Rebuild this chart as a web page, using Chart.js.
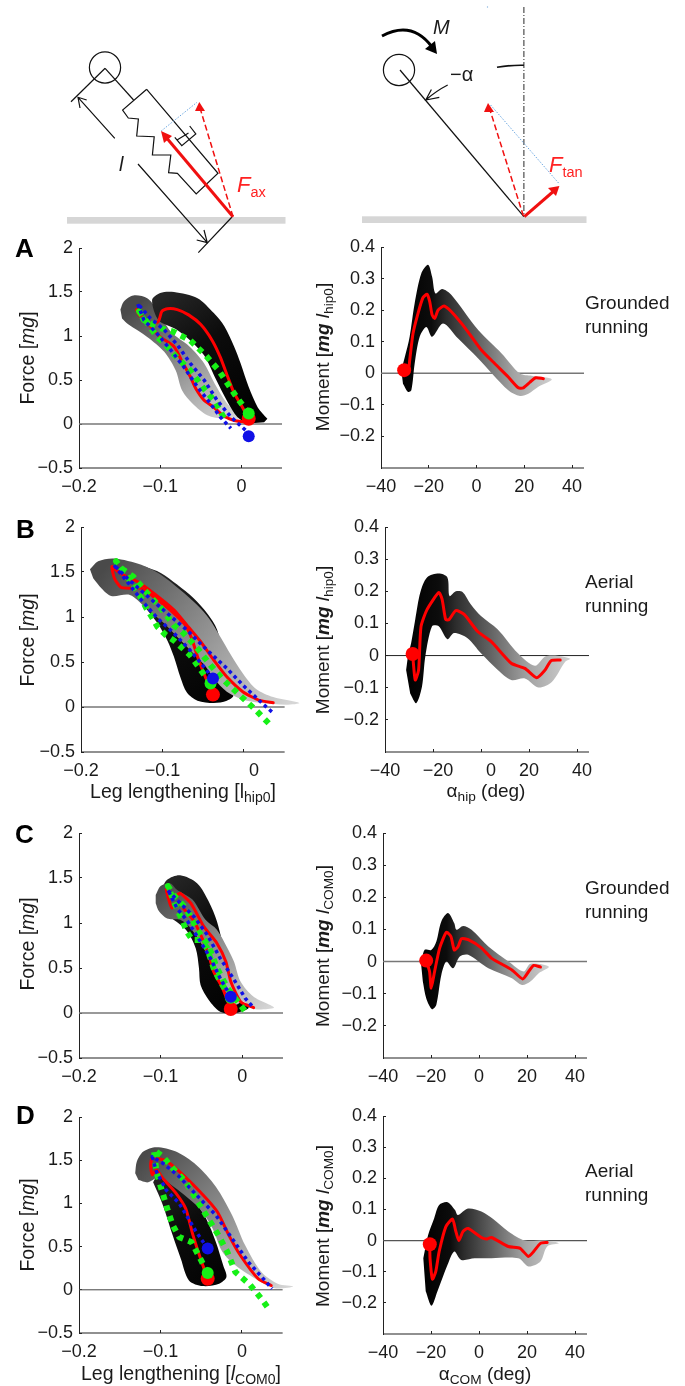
<!DOCTYPE html>
<html><head><meta charset="utf-8">
<script src="https://cdn.jsdelivr.net/npm/chart.js@4"></script>
<style>
html,body{margin:0;padding:0;background:#fff;overflow:hidden}
#page{position:relative;width:685px;height:1386px;overflow:hidden;font-family:"Liberation Sans",Arial,sans-serif;color:#1a1a1a;filter:blur(.35px)}
canvas{position:absolute}
svg{position:absolute;left:0;top:0}
.t{position:absolute;white-space:nowrap;font-size:19px;line-height:24px}
.w{font-size:19.5px}
.t sub{font-size:.72em;line-height:0;vertical-align:-.3em}
.r{transform:translate(-50%,-50%) rotate(-90deg)}
.c{transform:translateX(-50%)}
.L{position:absolute;font-weight:bold;font-size:26px;line-height:26px;color:#000}
.f{position:absolute;white-space:nowrap;font-size:22px;line-height:24px;color:#f22}
.f sub{font-size:.66em;line-height:0;vertical-align:-.32em}
</style></head><body><div id="page">
<svg width="685" height="262" viewBox="0 0 685 262">
 <rect x="67" y="217" width="218.5" height="6.7" fill="#d6d6d6"/>
 <rect x="362" y="216.3" width="224.5" height="6.7" fill="#d6d6d6"/>
 <g fill="none" stroke="#111" stroke-width="1.2">
  <circle cx="105" cy="67.5" r="15.6"/>
  <path d="M105.1 68.3 L133.6 100"/>
  <path d="M146.7 89.3 L122.6 110 L128.3 118 L138.4 119 L136.7 136 L154.2 136.7 L152.4 155 L170.8 155 L168.6 172.7 L177.4 173.3 L196.2 194 L218 173.3 L146.7 89.3"/>
  <path d="M174.8 137.3 L181.8 145.7 L195.8 134 L189.7 126 M177 140 L188.5 133"/>
  <path d="M105.1 68.3 L71 101.7"/>
  <path d="M114.8 138.3 L78 97.3 M86.7 100 L78 97.3 L80 108"/>
  <path d="M138 164 L207.3 242.7 M196.7 240 L207.3 242.7 L204 230"/>
  <path d="M198.3 252.7 L232 217"/>
  <circle cx="399" cy="70" r="15.6"/>
  <path d="M400 70 L523.9 216.7"/>
  <path d="M497 67.3 Q510 65 523.9 65.3" stroke-width="1.6"/>
  <path d="M447.7 85 Q436 91 425.8 100 M431.4 89.5 L425.8 100 L439.3 97.3"/>
 </g>
 <path d="M523.9 7 V216" fill="none" stroke="#111" stroke-width=".9" stroke-dasharray="6 2 1 2"/>
 <path d="M382 36 Q412 20 432 47" fill="none" stroke="#000" stroke-width="3"/>
 <polygon points="437,54 425,49 435,41" fill="#000"/>
 <circle cx="487.5" cy="7" r=".7" fill="#8ab4e0"/>
 <g fill="none" stroke="#6aa6e0" stroke-width="1" stroke-dasharray="1.5 1.5">
  <path d="M161.2 131 L197 102.3"/><path d="M490.6 105 L559.4 184"/>
 </g>
 <g fill="none" stroke="#f01010">
  <path d="M233 216.7 L165 136" stroke-width="3"/>
  <path d="M233 216.7 L200 108" stroke-width="1.5" stroke-dasharray="6 3"/>
  <path d="M523.4 216 L490 110" stroke-width="1.5" stroke-dasharray="6 3"/>
  <path d="M524.3 216.7 L555 190" stroke-width="3"/>
 </g>
 <g fill="#f01010">
  <polygon points="161,131 172,136 164,143"/>
  <polygon points="199.3,102 205,111 195,111"/>
  <polygon points="488,103 494,112 484,112"/>
  <polygon points="559.4,186 556,196 548,188"/>
 </g>
</svg>
<div class="t" style="left:119px;top:152px;font-style:italic;font-size:20px">l</div>
<div class="f" style="left:237px;top:173px"><i>F</i><sub>ax</sub></div>
<div class="f" style="left:549px;top:153px"><i>F</i><sub>tan</sub></div>
<div class="t" style="left:433px;top:15px;font-style:italic;font-size:20px">M</div>
<div class="t" style="left:450px;top:62px;font-size:20px">−α</div>

<div class="L" style="left:15px;top:235px">A</div>
<div class="L" style="left:16px;top:516px">B</div>
<div class="L" style="left:15px;top:821px">C</div>
<div class="L" style="left:16px;top:1102px">D</div>

<div class="t r w" style="left:27px;top:358px">Force [<i>mg</i>]</div>
<div class="t r w" style="left:27px;top:640px">Force [<i>mg</i>]</div>
<div class="t r w" style="left:27px;top:944px">Force [<i>mg</i>]</div>
<div class="t r w" style="left:27px;top:1225px">Force [<i>mg</i>]</div>
<div class="t r" style="left:323px;top:357px">Moment [<b><i>mg</i></b> <i>l</i><sub>hip0</sub>]</div>
<div class="t r" style="left:323px;top:640px">Moment [<b><i>mg</i></b> <i>l</i><sub>hip0</sub>]</div>
<div class="t r" style="left:323px;top:946px">Moment [<b><i>mg</i></b> <i>l</i><sub>COM0</sub>]</div>
<div class="t r" style="left:323px;top:1226px">Moment [<b><i>mg</i></b> <i>l</i><sub>COM0</sub>]</div>
<div class="t c w" style="left:183px;top:779px">Leg lengthening [l<sub>hip0</sub>]</div>
<div class="t c w" style="left:181px;top:1361px">Leg lengthening [<i>l</i><sub>COM0</sub>]</div>
<div class="t c" style="left:486px;top:779px">α<sub>hip</sub> (deg)</div>
<div class="t c" style="left:485px;top:1362px">α<sub>COM</sub> (deg)</div>
<div class="t" style="left:585px;top:291px">Grounded<br>running</div>
<div class="t" style="left:585px;top:570px">Aerial<br>running</div>
<div class="t" style="left:585px;top:876px">Grounded<br>running</div>
<div class="t" style="left:585px;top:1159px">Aerial<br>running</div>
</div>
<script>
// ---------- tick values and labels
const forceXTicks=[-0.2,-0.1,0];
const forceXLabels=['−0.2','−0.1','0'];
const forceXLabelsB=['−0.2','−0.1','    0'];
const forceYTicks=[-0.5,0,0.5,1,1.5,2];
const forceYLabels=['−0.5','0','0.5','1','1.5','2'];
const momentXTicks=[-40,-20,0,20,40];
const momentXLabels=['−40','−20','0','20','40'];
const momentXLabelsB=['−40','  −20','    0','20','  40'];
const momentYTicks=[-0.2,-0.1,0,0.1,0.2,0.3,0.4];
const momentYLabels=['−0.2','−0.1','0','0.1','0.2','0.3','0.4'];

// ---------- panel A, force
const aForceRedX=[.009,0,-.009,-.017,-.026,-.036,-.05,-.065,-.079,-.091,-.098,-.102,-.11,-.122,-.129,-.126,-.114,-.1,-.083,-.073,-.063,-.056,-.046,-.034,-.023,-.009,.009];
const aForceRedY=[.06,.21,.35,.54,.76,.95,1.13,1.24,1.30,1.31,1.28,1.17,1.13,1.21,1.30,1.24,1.13,.99,.88,.71,.54,.40,.27,.19,.10,.04,.02];
const aForceBlueX=[.009,.005,-.013,-.03,-.046,-.063,-.079,-.095,-.112,-.128,-.12,-.104,-.087,-.071,-.054,-.038,-.026,-.013];
const aForceBlueY=[-.14,-.07,.08,.27,.50,.69,.90,1.07,1.20,1.37,1.18,1.03,.84,.65,.42,.23,.08,-.05];
const aForceGreenX=[.009,-.007,-.028,-.044,-.063,-.084,-.1,-.12,-.126,-.118,-.104,-.095,-.079,-.063,-.048,-.032,-.021];
const aForceGreenY=[.12,.32,.61,.78,.95,1.05,1.09,1.18,1.28,1.18,.99,.92,.75,.61,.42,.25,.06];
const aDarkX=[.032,.026,.02,.009,-.001,-.009,-.021,-.034,-.054,-.083,-.1,-.11,-.102,-.081,-.063,-.046,-.032,-.017,-.005,.007,.028];
const aDarkY=[.06,.12,.19,.42,.69,.88,1.11,1.26,1.43,1.50,1.49,1.41,1.18,1.08,.95,.78,.52,.25,.08,.015,.02];
const aGreyX=[-.149,-.145,-.133,-.116,-.104,-.087,-.064,-.046,-.033,-.019,-.003,-.021,-.042,-.06,-.073,-.081,-.095,-.116,-.139,-.147];
const aGreyY=[1.30,1.39,1.46,1.43,1.30,1.05,.88,.69,.46,.25,.07,.06,.10,.23,.38,.61,.82,.99,1.13,1.20];

// ---------- panel A, moment
const aMomentRedX=[-30.3,-28.7,-28,-26.6,-24.5,-22.4,-20.7,-19.6,-18.6,-17.5,-16.1,-13.6,-10.5,-6.3,-2.1,2.1,7.7,13.3,17.5,19.6,22.4,24.8,28];
const aMomentRedY=[.01,0,.04,.126,.19,.24,.25,.227,.185,.174,.2,.213,.195,.158,.116,.073,.03,-.012,-.046,-.046,-.028,-.014,-.017];
const aBandX=[-31.5,-30,-28,-25.9,-23.1,-20.3,-18.6,-17.2,-14.4,-10.5,.7,10.5,18.2,23.1,31.5,25.9,21.7,18.2,13.3,.7,-7.7,-14,-18.6,-21,-23.8,-25.9,-27.3,-28.7,-30.8];
const aBandY=[.01,.052,.116,.222,.317,.344,.306,.253,.267,.248,.137,.063,-.001,-.008,-.019,-.043,-.065,-.072,-.054,.047,.11,.158,.116,.147,.116,.031,-.054,-.059,-.033];

// ---------- panel B, force
const bForceRedX=[-.038,-.049,-.057,-.064,-.072,-.086,-.106,-.126,-.14,-.151,-.159,-.162,-.155,-.14,-.13,-.11,-.086,-.07,-.053,-.037,-.021,-.001,.019,.036];
const bForceRedY=[.138,.37,.56,.76,.91,1.04,1.19,1.32,1.32,1.33,1.43,1.56,1.505,1.43,1.39,1.26,1.08,.91,.725,.52,.335,.167,.074,.048];
const bForceBlueX=[-.038,-.049,-.066,-.086,-.106,-.126,-.143,-.16,-.143,-.122,-.094,-.07,-.045,-.021,-.001,.023,.035];
const bForceBlueY=[.316,.446,.63,.82,.985,1.19,1.39,1.58,1.43,1.26,1.04,.855,.63,.43,.24,.037,-.06];
const bForceGreenX=[-.041,-.066,-.086,-.096,-.106,-.112,-.12,-.126,-.136,-.157,-.149,-.136,-.12,-.102,-.086,-.076,-.057,-.041,-.025,-.005,.013,.031];
const bForceGreenY=[.26,.576,.74,.80,.89,.985,1.1,1.21,1.36,1.62,1.53,1.45,1.28,1.10,.91,.84,.65,.465,.30,.13,-.02,-.186];
const bDarkX=[-.122,-.102,-.082,-.062,-.045,-.033,-.013,-.021,-.037,-.057,-.07,-.078,-.086,-.094,-.106,-.122,-.134];
const bDarkY=[1.56,1.49,1.36,1.21,1.04,.86,.13,.07,.045,.07,.16,.33,.56,.74,.93,1.12,1.30];
const bGreyX=[-.189,-.179,-.159,-.126,-.102,-.078,-.057,-.043,-.029,-.017,-.001,.015,.036,.068,.052,.019,-.001,-.021,-.037,-.047,-.062,-.082,-.098,-.122,-.14,-.163,-.175,-.185];
const bGreyY=[1.53,1.62,1.65,1.58,1.47,1.30,1.13,.985,.78,.595,.37,.20,.11,.045,.026,.048,.08,.17,.32,.45,.595,.78,.93,1.115,1.245,1.234,1.32,1.43];

// ---------- panel B, moment
const bMomentRedX=[-28.5,-27.4,-26,-25,-22.5,-17.6,-16.2,-14.7,-13.3,-10.5,-7,-1.4,4.2,12.6,18.3,23.2,26.7,29.2,33];
const bMomentRedY=[.005,-.076,-.045,.09,.143,.196,.175,.112,.112,.14,.128,.075,.044,-.024,-.04,-.069,-.045,-.016,-.014];
const bBandX=[-31.2,-30.2,-29.1,-27.4,-25.3,-22.5,-17.6,-14,-13.1,-10.5,-7.7,-4.2,0,7,15.4,22.5,26.7,30.9,37.2,35.1,29.5,23.9,18.3,12.6,7,0,-5.6,-11.2,-14,-17.6,-20.4,-23.2,-24.6,-27,-29.5];
const bBandY=[-.045,.007,.039,.112,.196,.243,.255,.243,.185,.2,.198,.159,.123,.081,.007,-.032,-.003,0,-.01,-.019,-.082,-.099,-.071,-.076,-.045,.007,.054,.07,.051,.091,.091,-.003,-.097,-.148,-.118];

// ---------- panel C, force
const cForceRedX=[-.014,-.024,-.035,-.041,-.049,-.059,-.069,-.078,-.086,-.09,-.093,-.088,-.08,-.076,-.063,-.047,-.031,-.02,-.014,-.002,.014];
const cForceRedY=[.045,.275,.46,.645,.83,1.02,1.13,1.22,1.165,1.26,1.37,1.295,1.31,1.33,1.22,.96,.775,.57,.35,.126,.06];
const cForceBlueX=[-.014,-.027,-.039,-.051,-.067,-.08,-.09,-.092,-.076,-.059,-.043,-.027,-.01,.004,.014];
const cForceBlueY=[.18,.386,.61,.79,1.02,1.165,1.35,1.37,1.22,1.07,.87,.61,.37,.16,.06];
const cForceGreenX=[-.014,-.027,-.035,-.043,-.051,-.061,-.068,-.073,-.082,-.091,-.084,-.069,-.055,-.041,-.031,-.018,.007];
const cForceGreenY=[.17,.35,.5,.72,.81,.81,.905,1.02,1.2,1.41,1.31,1.165,.925,.74,.5,.275,-.02];
const cDarkX=[-.1,-.092,-.076,-.055,-.041,-.031,-.018,-.01,.008,-.01,-.027,-.041,-.051,-.053,-.057,-.069,-.092];
const cDarkY=[1.35,1.48,1.53,1.44,1.24,1.02,.534,.2,.06,-.004,.015,.145,.31,.5,.72,.925,1.09];
const cGreyX=[-.106,-.1,-.088,-.08,-.061,-.045,-.031,-.018,-.01,-.002,.014,.039,.014,.002,-.01,-.024,-.035,-.047,-.063,-.076,-.092,-.102,-.106];
const cGreyY=[1.31,1.41,1.44,1.37,1.26,1.035,.925,.72,.57,.35,.18,.06,.045,.126,.09,.275,.46,.72,.94,1.035,1.05,1.13,1.22];

// ---------- panel C, moment
const cMomentRedX=[-22,-20.6,-19.9,-18.5,-16.4,-13.6,-11.7,-10.3,-8.7,-7.3,-4.5,1.1,5.3,13.7,18.2,20.7,22.8,25.6];
const cMomentRedY=[.003,-.031,-.083,-.031,.042,.091,.078,.036,.047,.071,.068,.042,.01,-.026,-.054,-.031,-.012,-.017];
const cBandX=[-24.1,-22.7,-19.9,-17.8,-15.7,-12.9,-10.3,-9.4,-6.6,-3.1,3.9,12.3,18.6,21.4,29.1,24.9,21.4,17.9,13.7,3.9,-4.5,-8,-10.8,-13.6,-15.7,-17.8,-19.6,-22,-23.4];
const cBandY=[-.01,.036,.036,.062,.125,.151,.119,.099,.111,.099,.047,0,-.031,-.007,-.016,-.036,-.062,-.073,-.052,-.021,.021,.016,-.021,0,-.042,-.135,-.148,-.114,-.062];

// ---------- panel D, force
const dForceRedX=[-.042,-.05,-.06,-.069,-.081,-.097,-.105,-.11,-.112,-.11,-.095,-.077,-.048,-.03,-.016,-.002,.02,.036];
const dForceRedY=[.128,.34,.63,.94,1.12,1.29,1.39,1.33,1.43,1.52,1.50,1.37,1.10,.90,.63,.40,.128,.05];
const dForceBlueX=[-.042,-.056,-.077,-.093,-.105,-.11,-.097,-.077,-.052,-.032,-.012,.008,.028,.037];
const dForceBlueY=[.477,.67,1.0,1.155,1.37,1.54,1.465,1.31,1.06,.864,.593,.32,.11,.012];
const dForceGreenX=[-.042,-.05,-.062,-.077,-.085,-.091,-.099,-.105,-.108,-.097,-.087,-.069,-.044,-.03,-.018,-.008,.01,.024,.032];
const dForceGreenY=[.194,.34,.554,.61,.75,.92,1.17,1.37,1.62,1.54,1.43,1.25,.864,.65,.44,.205,.058,-.105,-.21];
const dDarkX=[-.101,-.081,-.06,-.044,-.032,-.023,-.019,-.028,-.048,-.065,-.075,-.085,-.097,-.109];
const dDarkY=[1.39,1.29,1.06,.826,.554,.283,.147,.07,.043,.109,.36,.63,.98,1.244];
const dGreyX=[-.131,-.129,-.121,-.105,-.081,-.056,-.032,-.012,.004,.024,.044,.063,.04,.02,-.008,-.024,-.036,-.052,-.071,-.089,-.101,-.115,-.127];
const dGreyY=[1.35,1.485,1.6,1.65,1.6,1.445,1.194,.864,.515,.205,.07,.039,.019,.109,.283,.44,.71,.94,1.1,1.23,1.31,1.244,1.27];

// ---------- panel D, moment
const dMomentRedX=[-20.5,-20.4,-19.4,-18,-16.6,-13.8,-11,-9.8,-8.4,-6.7,-4.6,1,3.1,5.2,12.2,17.1,20.6,22.8,25.6,28.4];
const dMomentRedY=[-.012,-.057,-.124,-.099,-.035,.045,.069,.034,0,.029,.039,.01,.005,.01,-.019,-.025,-.051,-.035,-.009,-.006];
const dBandX=[-23.2,-21.2,-18.7,-16.6,-13.1,-10,-8.8,-4.6,1,5.9,12.2,19.2,27.7,33.3,28.4,25.6,20.6,16.4,5.2,-1.8,-7.4,-10.3,-13.1,-17.3,-19.8,-22.2];
const dBandY=[-.057,.018,.071,.114,.123,.098,.082,.103,.093,.069,.029,0,0,-.009,-.019,-.067,-.083,-.057,-.057,-.057,-.062,-.035,-.078,-.163,-.209,-.163];

// ---------- drawing helpers
const FONT={family:'"Liberation Sans",Arial,sans-serif',size:18};
const RED='#ff0000',GREEN='#16f016',BLUE='#1010e6';
const zip=(xs,ys)=>xs.map((x,i)=>({x,y:ys[i]}));
const YW=70,XH=32,PT=12,PR=6;
function gradient(from,to,stops){
  return c=>{
    const ch=c.chart,sx=ch.scales.x,sy=ch.scales.y;
    if(!sx||!sy||!ch.chartArea)return '#000';
    const v=[sx.getPixelForValue(from[0]),sy.getPixelForValue(from[1]),sx.getPixelForValue(to[0]),sy.getPixelForValue(to[1])];
    if(!v.every(Number.isFinite))return '#000';
    const g=ch.ctx.createLinearGradient(v[0],v[1],v[2],v[3]);
    stops.forEach(s=>g.addColorStop(s[0],s[1]));
    return g;
  };
}
const band=(xs,ys,bg)=>({data:zip(xs,ys),fill:'shape',backgroundColor:bg,borderColor:'rgba(0,0,0,0)',borderWidth:0,tension:.3,pointRadius:0,clip:false});
const rule=(x0,x1,y,color,w)=>({data:[{x:x0,y},{x:x1,y}],borderColor:color,borderWidth:w,pointRadius:0,fill:false,clip:false});
const curve=(xs,ys,color,w,dash,cap,tension)=>({data:zip(xs,ys),borderColor:color,borderWidth:w,borderDash:dash||[],borderCapStyle:cap||'butt',borderJoinStyle:'round',tension:tension||0,pointRadius:0,fill:false,clip:false});
const dot=(xs,ys,color,r)=>({data:[{x:xs[0],y:ys[0]}],showLine:false,pointRadius:r,pointBackgroundColor:color,pointBorderWidth:0,fill:false,clip:false});
const noPad=s=>{s.paddingLeft=0;s.paddingRight=0;s.paddingTop=0;s.paddingBottom=0;};

function makeChart(p){
  const plotW=Math.round((p.end-p.left)*(p.xDraw-p.xMin)/(p.xEnd-p.xMin));
  const cv=document.createElement('canvas');
  const W=YW+plotW+PR,H=PT+(p.bottom-p.top)+XH;
  cv.width=W;cv.height=H;
  cv.style.cssText=`left:${p.left-YW}px;top:${p.top-PT}px;width:${W}px;height:${H}px`;
  document.getElementById('page').appendChild(cv);
  const layers=p.datasets.map((d,i)=>Object.assign({order:p.datasets.length-i},d));
  const chart=new Chart(cv.getContext('2d'),{
    type:'line',
    data:{datasets:layers},
    options:{
      responsive:false,animation:false,events:[],devicePixelRatio:1,
      layout:{autoPadding:false,padding:{left:0,top:PT,right:PR,bottom:0}},
      plugins:{legend:{display:false},tooltip:{enabled:false},title:{display:false}},
      scales:{
        x:{type:'linear',min:p.xMin,max:p.xDraw,
          afterBuildTicks:s=>{s.ticks=p.xTicks.map(value=>({value}));},
          afterFit:s=>{s.height=XH;noPad(s);},
          border:{display:false},
          grid:{drawOnChartArea:false,tickLength:-3,color:'#222',lineWidth:1},
          ticks:{autoSkip:false,maxRotation:0,minRotation:0,padding:11,color:'#1a1a1a',font:FONT,callback:(v,i)=>p.xLabels[i]}},
        y:{type:'linear',min:p.yMin,max:p.yMax,
          afterBuildTicks:s=>{s.ticks=p.yTicks.map(value=>({value}));},
          afterFit:s=>{s.width=YW;noPad(s);},
          border:{display:true,color:'#222',width:1},
          grid:{drawOnChartArea:false,tickLength:-3,color:'#222',lineWidth:1},
          ticks:{autoSkip:false,padding:9,color:'#1a1a1a',font:FONT,callback:(v,i)=>p.yLabels[i]}}
      }
    }
  });
  chart.update();
  return chart;
}
const darkStops=[[0,'#000'],[.6,'#0c0c0c'],[1,'#262626']];
const greyStops=[[0,'#4a4a4a'],[.5,'#8f8f8f'],[1,'#d6d6d6']];
const momentStops=[[0,'#000'],[.2,'#0c0c0c'],[.3,'#2c2c2c'],[.5,'#5f5f5f'],[.75,'#a4a4a4'],[1,'#cfcfcf']];

function forcePanel(g,r,bl,gr,dk,gy,darkOnTop,gyFrom,gyTo,xDraw){
  const xMin=-.2,xEnd=.05,yMin=-.5;
  const dark=band(dk[0],dk[1],gradient([.02,.05],[-.09,1.5],darkStops));
  const grey=band(gy[0],gy[1],gradient(gyFrom,gyTo,greyStops));
  return Object.assign({xMin,xEnd,xDraw:xDraw||xEnd,yMin,yMax:2,xTicks:forceXTicks,xLabels:forceXLabels,yTicks:forceYTicks,yLabels:forceYLabels},g,{
    datasets:[
      rule(xMin,xEnd,0,g.zeroColor,g.zeroWidth),
      rule(xMin,xEnd,yMin,'#222',1.2),
      ...(darkOnTop?[grey,dark]:[dark,grey]),
      curve(r[0],r[1],RED,3,[],'round',.2),
      curve(gr[0],gr[1],GREEN,6,[5.5,5.5]),
      curve(bl[0],bl[1],BLUE,3.5,[3.5,3.5]),
      dot(r[0],r[1],RED,7),
      dot(gr[0],gr[1],GREEN,6),
      dot(bl[0],bl[1],BLUE,6)
    ]});
}
function momentPanel(g,r,b){
  const xMin=-40,xEnd=45,yMin=-.3;
  const x0=Math.min(...b[0]),x1=Math.max(...b[0]);
  return Object.assign({xMin,xEnd,xDraw:xEnd,yMin,yMax:.4,xTicks:momentXTicks,xLabels:momentXLabels,yTicks:momentYTicks,yLabels:momentYLabels},g,{
    datasets:[
      rule(xMin,xEnd,0,g.zeroColor,g.zeroWidth),
      rule(xMin,xEnd,yMin,'#222',1.2),
      band(b[0],b[1],gradient([x0,0],[x1,0],momentStops)),
      curve(r[0],r[1],RED,3,[],'round',.2),
      dot(r[0],r[1],RED,7)
    ]});
}
[
 forcePanel({left:79,top:248,bottom:468,end:282,zeroColor:'#777',zeroWidth:1.6},[aForceRedX,aForceRedY],[aForceBlueX,aForceBlueY],[aForceGreenX,aForceGreenY],[aDarkX,aDarkY],[aGreyX,aGreyY],true,[-.13,1.35],[-.01,.06]),
 momentPanel({left:381,top:247,bottom:468,end:584,zeroColor:'#777',zeroWidth:1.6},[aMomentRedX,aMomentRedY],[aBandX,aBandY]),
 forcePanel({left:81,top:527,bottom:752,end:285,xLabels:forceXLabelsB,zeroColor:'#333',zeroWidth:1},[bForceRedX,bForceRedY],[bForceBlueX,bForceBlueY],[bForceGreenX,bForceGreenY],[bDarkX,bDarkY],[bGreyX,bGreyY],false,[-.17,1.55],[.06,.05],.075),
 momentPanel({left:385,top:527,bottom:752,end:589,xLabels:momentXLabelsB,zeroColor:'#222',zeroWidth:1},[bMomentRedX,bMomentRedY],[bBandX,bBandY]),
 forcePanel({left:79,top:833,bottom:1058,end:283,zeroColor:'#777',zeroWidth:1.6},[cForceRedX,cForceRedY],[cForceBlueX,cForceBlueY],[cForceGreenX,cForceGreenY],[cDarkX,cDarkY],[cGreyX,cGreyY],false,[-.1,1.4],[.035,.06]),
 momentPanel({left:383,top:833,bottom:1058,end:587,zeroColor:'#777',zeroWidth:1.6},[cMomentRedX,cMomentRedY],[cBandX,cBandY]),
 forcePanel({left:79,top:1117,bottom:1333,end:283,zeroColor:'#444',zeroWidth:1},[dForceRedX,dForceRedY],[dForceBlueX,dForceBlueY],[dForceGreenX,dForceGreenY],[dDarkX,dDarkY],[dGreyX,dGreyY],false,[-.12,1.55],[.06,.05],.075),
 momentPanel({left:383,top:1116,bottom:1334,end:587,zeroColor:'#555',zeroWidth:1.2},[dMomentRedX,dMomentRedY],[dBandX,dBandY])
].forEach(makeChart);
</script>
</body></html>
